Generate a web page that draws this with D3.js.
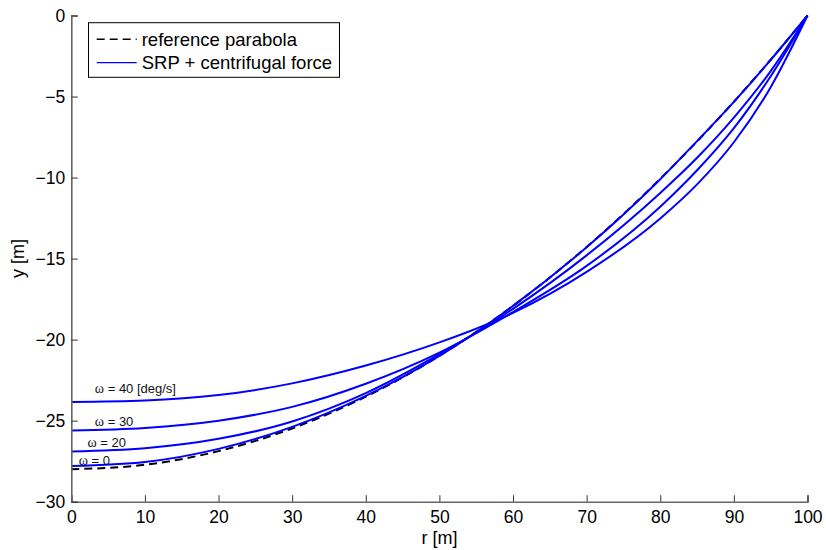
<!DOCTYPE html>
<html>
<head>
<meta charset="utf-8">
<script src="https://cdn.jsdelivr.net/npm/d3@7"></script>
<style>
  body { margin: 0; background: #fff; }
  text { font-family: "Liberation Sans", Arial, sans-serif; }
</style>
</head>
<body>
<div id="my_dataviz"></div>
<script>
// radial position r [m]
var rValues   = [0, 10, 20, 30, 40, 50, 60, 70, 80, 85, 90, 95, 100]
// reference parabola (dashed)
var refParabola = [-28.0, -27.72, -26.88, -25.48, -23.52, -21.0, -17.92, -14.28, -10.08, -7.77, -5.32, -2.73, 0]
// SRP + centrifugal force, one per spin rate
var omega0  = [-27.8, -27.55, -26.74, -25.38, -23.47, -21.0, -17.92, -14.3, -10.1, -7.75, -5.33, -2.74, 0]
var omega20 = [-26.9, -26.7, -26.12, -25.05, -23.3, -20.9, -18.1, -14.8, -10.95, -8.78, -6.3, -3.43, 0]
var omega30 = [-25.6, -25.45, -25.0, -24.15, -22.72, -20.8, -18.3, -15.45, -11.8, -9.55, -6.95, -3.75, 0]
var omega40 = [-23.85, -23.76, -23.42, -22.7, -21.6, -20.17, -18.35, -15.82, -12.52, -10.42, -7.82, -4.42, 0]

var xTicks = [0, 10, 20, 30, 40, 50, 60, 70, 80, 90, 100]
var yTicks = [0, -5, -10, -15, -20, -25, -30]

// curve labels: text and where it sits (data coords)
var curveLabels = [
    {w: "40 [deg/s]", r: 3.2, y: -23.0},
    {w: "30", r: 3.2, y: -25.03},
    {w: "20", r: 2.2, y: -26.31},
    {w: "0",  r: 1.0, y: -27.44}
]

function draw() {
    var svg = d3.select("#my_dataviz").append("svg")
            .attr("width", 826)
            .attr("height", 550)
    svg.append("rect").attr("width", 826).attr("height", 550).attr("fill", "#fff")

    var pLeft = 71.3, pRight = 807.5, pTop = 15.5, pBottom = 501.7

    var xs = d3.scaleLinear().domain([0, 100]).range([pLeft, pRight])
    var ys = d3.scaleLinear().domain([-30, 0]).range([pBottom, pTop])

    // curves
    var line = d3.line()
        .x(function(d) { return xs(d[0]) })
        .y(function(d) { return ys(d[1]) })
        .curve(d3.curveMonotoneX)

    function pts(vals) { return rValues.map(function(r, i) { return [r, vals[i]] }) }

    var plot = svg.append("g")

    plot.append("path")
        .attr("d", line(pts(refParabola)))
        .attr("fill", "none")
        .attr("stroke", "#000")
        .attr("stroke-width", 2)
        .attr("stroke-dasharray", "8,5")

    var series = [omega0, omega20, omega30, omega40]
    plot.selectAll(".srp")
        .data(series)
        .enter()
        .append("path")
        .attr("class", "srp")
        .attr("d", function(d) { return line(pts(d)) })
        .attr("fill", "none")
        .attr("stroke", "#0000ff")
        .attr("stroke-width", 2)

    // curve annotations
    var lab = plot.selectAll(".clab")
        .data(curveLabels)
        .enter()
        .append("text")
        .attr("class", "clab")
        .attr("x", function(d) { return xs(d.r) })
        .attr("y", function(d) { return ys(d.y) })
        .attr("dominant-baseline", "central")
        .style("font-size", "13px")
        .attr("fill", "#111")
    lab.append("tspan").style("font-family", "'Liberation Serif', serif").style("font-size", "14px").text("\u03c9")
    lab.append("tspan").text(function(d) { return " = " + d.w })

    // axes: left and bottom only, ticks inside
    var xAxis = svg.append("g")
        .attr("transform", "translate(0," + pBottom + ")")
        .call(d3.axisBottom(xs).tickValues(xTicks).tickSize(-6.5).tickPadding(16).tickFormat(d3.format("d")))
    var yAxis = svg.append("g")
        .attr("transform", "translate(" + pLeft + ",0)")
        .call(d3.axisLeft(ys).tickValues(yTicks).tickSize(-6.5).tickPadding(14).tickFormat(d3.format("d")))

    ;[xAxis, yAxis].forEach(function(ax) {
        ax.select(".domain").attr("stroke", "#666").attr("stroke-width", 1.6)
        ax.selectAll(".tick line").attr("stroke", "#333").attr("stroke-width", 1)
        ax.selectAll(".tick text").attr("fill", "#000").style("font-size", "17.5px")
            .style("font-family", "'Liberation Sans', Arial, sans-serif")
    })
    xAxis.selectAll(".tick text").attr("dy", "0.32em").attr("y", 15.5)
    yAxis.selectAll(".tick text").attr("x", -6)

    // axis labels
    svg.append("text")
        .attr("text-anchor", "middle")
        .attr("x", (pLeft + pRight) / 2)
        .attr("y", 538)
        .attr("dominant-baseline", "central")
        .style("font-size", "18px")
        .text("r [m]")
    svg.append("text")
        .attr("text-anchor", "middle")
        .attr("transform", "translate(18," + ((pTop + pBottom) / 2) + ") rotate(-90)")
        .attr("dominant-baseline", "central")
        .style("font-size", "18px")
        .text("y [m]")

    // legend
    var legend = svg.append("g")
    legend.append("rect")
        .attr("x", 88.5).attr("y", 22.7)
        .attr("width", 251).attr("height", 54.6)
        .attr("fill", "#fff").attr("stroke", "#000").attr("stroke-width", 1)
    var legendItems = [
        {name: "reference parabola", color: "#000", dash: "8,5"},
        {name: "SRP + centrifugal force", color: "#0000ff", dash: null}
    ]
    legend.selectAll(".lline")
        .data(legendItems)
        .enter()
        .append("line")
        .attr("x1", 96.7).attr("x2", 136.7)
        .attr("y1", function(d, i) { return 39.3 + i * 23.4 })
        .attr("y2", function(d, i) { return 39.3 + i * 23.4 })
        .attr("stroke", function(d) { return d.color })
        .attr("stroke-width", function(d) { return d.dash ? 1.6 : 1.3 })
        .attr("stroke-dasharray", function(d) { return d.dash })
    legend.selectAll(".ltext")
        .data(legendItems)
        .enter()
        .append("text")
        .attr("x", 141.7)
        .attr("y", function(d, i) { return 39.3 + i * 23.4 })
        .attr("dominant-baseline", "central")
        .style("font-size", "18.5px")
        .text(function(d) { return d.name })
}

draw()
</script>
</body>
</html>
